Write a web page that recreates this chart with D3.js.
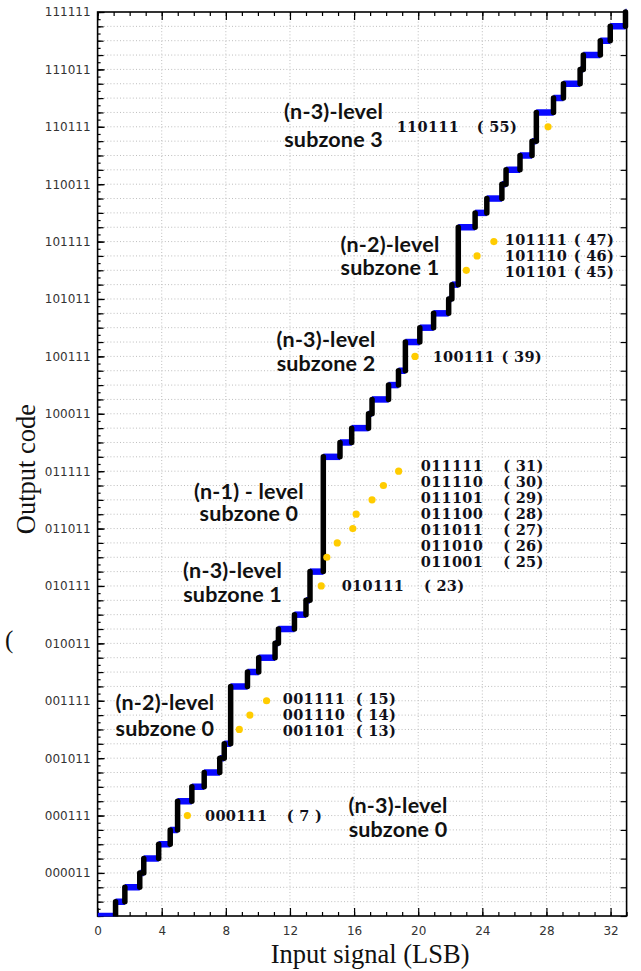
<!DOCTYPE html>
<html>
<head>
<meta charset="utf-8">
<script src="https://cdn.jsdelivr.net/npm/d3@7"></script>
<style>
body { margin:0; background:#ffffff; }
.tick text { font-family:"DejaVu Sans",sans-serif; font-size:12px; fill:#333333; }
.zone { font-family:Lato,sans-serif; font-weight:bold; font-size:21.5px; fill:#111111; letter-spacing:0.2px; }
.codeLabel { font-family:"DejaVu Serif",serif; font-weight:bold; font-size:14.5px; fill:#10101a; letter-spacing:0.3px; }
.axisTitle { font-family:"Liberation Serif",serif; font-size:26.5px; fill:#111111; }
</style>
</head>
<body>
<svg id="chart" width="641" height="971"></svg>
<script>
// codes the converter actually produces, in order
var codes = [0,1,2,3,4,5,6,8,9,10,11,12,16,17,18,19,20,21,22,24,
             32,33,34,35,36,37,38,40,41,42,43,44,48,49,50,51,52,53,54,
             56,57,58,59,60,61,62,63];
// input level (LSB) where each code steps up to the next one
var stepAt = [1.12,1.7,2.63,2.88,3.81,4.53,4.99,5.88,6.65,7.62,7.9,8.3,9.35,10.05,11.07,11.28,
              12.28,13.0,13.25,14.08,15.12,15.85,16.9,17.12,18.15,18.77,19.2,20.1,20.96,21.9,
              22.1,22.5,23.55,24.28,25.22,25.48,26.35,27.1,27.37,28.44,29.06,30.1,30.3,31.36,
              31.98,32.93];
// skipped codes and where their marker dot sits
var missingCodes = [7,13,14,15,23,25,26,27,28,29,30,31,39,45,46,47,55];
var missingAt = [5.6,8.84,9.5,10.54,13.95,14.3,14.95,15.92,16.13,17.12,17.83,18.78,19.8,23.0,23.67,24.72,28.1];
// groups of skipped codes that get a text label
var labelGroups = [[7],[13,14,15],[23],[25,26,27,28,29,30,31],[39],[45,46,47],[55]];
var zoneText = [["(n-3)-level","subzone 3"],["(n-2)-level","subzone 1"],["(n-3)-level","subzone 2"],
                ["(n-1) - level","subzone 0"],["(n-3)-level","subzone 1"],["(n-2)-level","subzone 0"],
                ["(n-3)-level","subzone 0"]];
var xTicks = [0,4,8,12,16,20,24,28,32];
var yTicks = [3,7,11,15,19,23,27,31,35,39,43,47,51,55,59,63];

// layout of the annotations (in axis units)
var groupPos = [[6.7,11.8],[11.55,16.1],[15.23,20.36],[20.16,25.3],[20.9,25.2],[25.4,29.7],[18.66,23.65]];
var zonePos = [[14.72,55.52,53.57],[18.24,46.29,44.67],[14.25,39.65,37.98],[9.44,29.06,27.53],
               [8.42,23.55,21.9],[4.2,14.36,12.54],[18.74,7.16,5.5]];

var L = 97.6, R = 626.6, T = 12, B = 916;
var svg = d3.select("#chart");
var x = d3.scaleLinear().domain([0,33]).range([L,R]);
var y = d3.scaleLinear().domain([0,63]).range([B,T]);
var bin = function(d) { return d.toString(2).padStart(6,"0"); };

//Grid
svg.append("g").selectAll("line").data(d3.range(1,63)).enter().append("line")
  .attr("x1",L).attr("x2",R).attr("y1",d=>y(d)).attr("y2",d=>y(d))
  .attr("stroke","#bdbdbd").attr("stroke-dasharray","1,2.2");
svg.append("g").selectAll("line").data(xTicks.slice(1)).enter().append("line")
  .attr("y1",T).attr("y2",B).attr("x1",d=>x(d)).attr("x2",d=>x(d))
  .attr("stroke","#bdbdbd").attr("stroke-dasharray","1,2.2");

//Axes - ticks point inward
function ax(gen,tr,cls) {
  var g = svg.append("g").attr("transform",tr).call(gen);
  g.select(".domain").remove();
  g.selectAll(".tick line").attr("stroke","#000").attr("stroke-width",1.2);
  if (cls) g.selectAll("text").remove();
  return g;
}
ax(d3.axisBottom(x).tickValues(d3.range(0,34)).tickSize(-4),"translate(0,"+B+")",true);
ax(d3.axisBottom(x).tickValues(xTicks).tickSize(-8).tickPadding(10),"translate(0,"+B+")",false);
ax(d3.axisTop(x).tickValues(d3.range(0,34)).tickSize(-4),"translate(0,"+T+")",true);
ax(d3.axisTop(x).tickValues(xTicks).tickSize(-8),"translate(0,"+T+")",true);
ax(d3.axisLeft(y).tickValues(d3.range(0,63.5,0.5)).tickSize(-3),"translate("+L+",0)",true);
ax(d3.axisLeft(y).tickValues(d3.range(0,64)).tickSize(-6),"translate("+L+",0)",true);
ax(d3.axisLeft(y).tickValues(yTicks).tickSize(-7).tickPadding(7).tickFormat(bin),"translate("+L+",0)",false);
ax(d3.axisRight(y).tickValues(d3.range(0,64,2)).tickSize(-6),"translate("+R+",0)",true);

svg.append("rect").attr("x",L).attr("y",T).attr("width",R-L).attr("height",B-T)
  .attr("fill","none").attr("stroke","#000").attr("stroke-width",1.6);

//Staircase
svg.append("clipPath").attr("id","clip").append("rect")
  .attr("x",L).attr("y",0).attr("width",R-L+4).attr("height",B+0.5);
var stair = svg.append("g").attr("clip-path","url(#clip)");
stair.selectAll(".flat").data(codes).enter().append("line")
  .attr("x1",(d,i)=>x(i ? stepAt[i-1] : 0))
  .attr("x2",(d,i)=>x(i < stepAt.length ? stepAt[i] : 33))
  .attr("y1",d=>y(d)).attr("y2",d=>y(d))
  .attr("stroke","#0a0aff").attr("stroke-width",6.5);
stair.selectAll(".rise").data(stepAt).enter().append("line")
  .attr("x1",d=>x(d)).attr("x2",d=>x(d))
  .attr("y1",(d,i)=>y(codes[i])).attr("y2",(d,i)=>y(codes[i+1]))
  .attr("stroke","#000").attr("stroke-width",5.5).attr("stroke-linecap","round");

//Missing code dots
svg.append("g").selectAll("circle").data(missingCodes).enter().append("circle")
  .attr("cx",(d,i)=>x(missingAt[i])).attr("cy",d=>y(d)).attr("r",3.6).attr("fill","#ffcc00");

//Missing code labels
labelGroups.forEach(function(grp,gi) {
  var mid = d3.mean(grp);
  grp.forEach(function(c) {
    var cy = y(mid) - (c-mid)*16;
    svg.append("text").attr("class","codeLabel").attr("x",x(groupPos[gi][0])).attr("y",cy).attr("dy","0.36em").text(bin(c));
    svg.append("text").attr("class","codeLabel").attr("x",x(groupPos[gi][1])).attr("y",cy).attr("dy","0.36em")
      .text(c < 10 ? "( " + c + " )" : "( " + c + ")");
  });
});

//Zone labels
zoneText.forEach(function(t,i) {
  var p = zonePos[i];
  svg.append("text").attr("class","zone").attr("text-anchor","middle").attr("x",x(p[0])).attr("y",y(p[1])).text(t[0]);
  svg.append("text").attr("class","zone").attr("text-anchor","middle").attr("x",x(p[0])).attr("y",y(p[2])).text(t[1]);
});

//Axis titles
svg.append("text").attr("class","axisTitle").attr("text-anchor","middle")
  .attr("x",(L+R)/2+8).attr("y",963).text("Input signal (LSB)");
svg.append("text").attr("class","axisTitle").attr("text-anchor","middle")
  .attr("transform","translate(35,469)rotate(-90)").text("Output code");
svg.append("text").attr("class","axisTitle").attr("x",5).attr("y",648).style("font-size","25px").text("(");
</script>
</body>
</html>
